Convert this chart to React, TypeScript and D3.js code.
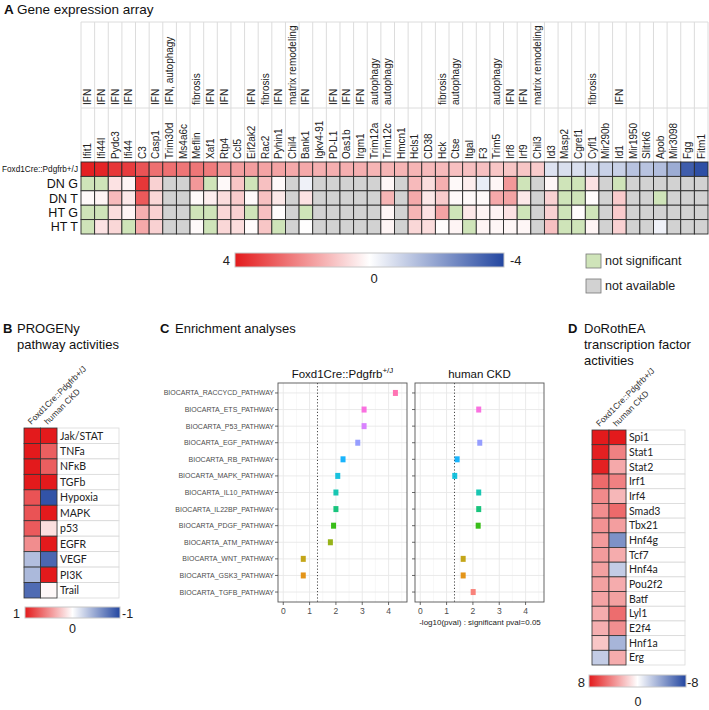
import React from "react";
import * as d3 from "d3";

// ---------------- Panel A data ----------------
const genes = ["Ifit1","Ifi44l","Pydc3","Ifi44","C3","Casp1","Trim30d","Ms4a6c","Meflin","Xaf1","Rtp4","Ccl5","Eif2ak2","Rac2","Pyhin1","Chil4","Bank1","Igkv4-91","PD-L1","Oas1b","Irgm1","Trim12a","Trim12c","Hmcn1","Hcls1","CD38","Hck","Ctse","Itgal","F3","Trim5","Irf8","Irf9","Chil3","Id3","Masp2","Cgref1","Cyfl1","Mir290b","Id1","Mir1950","Slitrk6","Apob","Mir3098","Fgg","Fitm1"];
const geneAnnotations = ["IFN","IFN","IFN","IFN","","IFN","IFN, autophagy","","fibrosis","IFN","IFN","","IFN","fibrosis","IFN","matrix remodeling","IFN","","IFN","IFN","IFN","autophagy","autophagy","","","","fibrosis","autophagy","","","autophagy","IFN","IFN","matrix remodeling","","","","fibrosis","","IFN","","","","","",""];
const rowLabelsA = ["Foxd1Cre::Pdgfrb+/J","DN G","DN T","HT G","HT T"];
const NS = "ns"; // not significant
const NA = "na"; // not available
const foxd1Expr = [3.9,3.8,3.5,3.4,3.0,2.5,2.5,2.4,2.4,2.3,1.8,1.7,1.7,1.6,1.6,1.5,1.5,1.4,1.4,1.4,1.4,1.3,1.3,1.3,1.3,1.2,1.2,1.1,1.1,1.1,1.0,1.0,1.0,0.9,-0.6,-0.7,-0.7,-0.8,-1.0,-1.0,-1.3,-1.3,-1.4,-1.8,-3.5,-3.8];
const dnG = [NS,NS,0.5,0.2,3.5,0.8,NA,NA,1.8,NS,0.1,1.0,NS,1.1,0.1,NA,-0.3,NA,NA,NA,NA,NA,0.15,NA,1.2,0.6,1.4,0.1,0.3,-0.4,0.15,1.8,NS,NA,0.15,NS,NS,0.5,NA,NS,NA,NA,NA,NA,NA,NA];
const dnT = [0.1,0.2,1.2,0.4,2.9,0.7,NA,NA,0.1,0.3,0.6,0.9,0.1,1.1,0.4,NA,0.5,NA,NA,NA,NA,NA,1.3,NA,1.5,0.4,0.9,0.1,0.1,0.1,1.5,1.6,0.4,NA,0.8,NS,NS,0.05,NA,0.9,NA,NA,NS,NA,NA,NA];
const htG = [NS,NS,0.6,0.2,1.4,0.8,NA,NA,NS,NS,0.7,0.8,NS,1.1,0.05,NA,NS,NA,NA,NA,NA,NA,0.15,NA,1.3,0.5,1.6,NS,0.4,0.2,0.2,0.5,NS,NA,0.8,NS,0.05,NS,NA,0.9,NA,NA,NA,NA,NA,NA];
const htT = [NS,0.5,0.7,NS,1.5,0.8,NA,NA,0.1,NS,0.7,0.6,0.05,1.0,NS,NA,0.02,NA,NA,NA,NA,NA,0.2,NA,0.7,0.6,0.05,0.2,NS,0.2,0.15,0.15,0.15,NA,1.1,NS,NS,0.2,NA,0.8,NA,NA,-0.3,NA,NA,NA];
const legendTicksA = ["4","0","-4"];

// ---------------- Panel B data ----------------
const progenyCols = ["Foxd1Cre::Pdgfrb+/J","human CKD"];
const progenyPathways = ["Jak/STAT","TNFa","NFκB","TGFb","Hypoxia","MAPK","p53","EGFR","VEGF","PI3K","Trail"];
const progenyFoxd1 = [1.0,1.0,1.0,1.0,0.75,0.75,0.72,0.5,-0.35,-0.38,-0.8];
const progenyCKD = [1.0,0.7,0.7,1.0,-0.93,1.0,0.14,1.0,-0.82,1.0,0.03];

// ---------------- Panel C data ----------------
const enrichPathways = ["BIOCARTA_RACCYCD_PATHWAY","BIOCARTA_ETS_PATHWAY","BIOCARTA_P53_PATHWAY","BIOCARTA_EGF_PATHWAY","BIOCARTA_RB_PATHWAY","BIOCARTA_MAPK_PATHWAY","BIOCARTA_IL10_PATHWAY","BIOCARTA_IL22BP_PATHWAY","BIOCARTA_PDGF_PATHWAY","BIOCARTA_ATM_PATHWAY","BIOCARTA_WNT_PATHWAY","BIOCARTA_GSK3_PATHWAY","BIOCARTA_TGFB_PATHWAY"];
const enrichFoxd1 = [4.26,3.07,3.07,2.83,2.27,2.07,2.0,2.0,1.91,1.79,0.76,0.76,null];
const enrichCKD = [null,2.22,null,2.26,1.40,1.31,2.22,2.22,2.20,null,1.63,1.63,2.01];
const enrichTicks = [0,1,2,3,4];
const sigThreshold = 1.3;

// ---------------- Panel D data ----------------
const tfNames = ["Spi1","Stat1","Stat2","Irf1","Irf4","Smad3","Tbx21","Hnf4g","Tcf7","Hnf4a","Pou2f2","Batf","Lyl1","E2f4","Hnf1a","Erg"];
const tfFoxd1 = [8,7.8,7.8,5.2,4.1,4.0,3.8,3.5,3.5,3.3,3.3,3.2,2.9,2.8,2.0,-2.2];
const tfCKD = [8,4.4,3.0,4.4,2.5,5.2,3.4,-4.7,2.9,-2.2,2.9,3.3,5.1,3.9,-3.2,2.9];

// ---------------- styling ----------------
const RED = "#e31a1c";
const WHITE = "#ffffff";
const BLUE = "#2346a0";
const GREEN = "#cfe4b9";
const GRAY = "#d2d2d2";
const FONT = "'Liberation Sans', Arial, sans-serif";
const LABFONT = "Lato, 'Open Sans', sans-serif";

// ggplot-like polarLuv -> hex
function hclLuv(h: number, c: number, l: number): string {
  const hr = (h * Math.PI) / 180;
  const u = c * Math.cos(hr), v = c * Math.sin(hr);
  const Xn = 95.047, Yn = 100, Zn = 108.883;
  const den = Xn + 15 * Yn + 3 * Zn;
  const un = (4 * Xn) / den, vn = (9 * Yn) / den;
  const Y = l > 8 ? Yn * Math.pow((l + 16) / 116, 3) : (Yn * l) / 903.3;
  const up = u / (13 * l) + un, vp = v / (13 * l) + vn;
  const X = (Y * 9 * up) / (4 * vp);
  const Z = (Y * (12 - 3 * up - 20 * vp)) / (4 * vp);
  const x = X / 100, y = Y / 100, z = Z / 100;
  const r = 3.2404542 * x - 1.5371385 * y - 0.4985314 * z;
  const g = -0.969266 * x + 1.8760108 * y + 0.041556 * z;
  const b = 0.0556434 * x - 0.2040259 * y + 1.0572252 * z;
  const gam = (t: number) => {
    t = Math.max(0, Math.min(1, t));
    return 255 * (t <= 0.0031308 ? 12.92 * t : 1.055 * Math.pow(t, 1 / 2.4) - 0.055);
  };
  return d3.rgb(gam(r), gam(g), gam(b)).formatHex();
}

function divScale(max: number) {
  return d3.scaleLinear<string>().domain([max, 0, -max]).range([RED, WHITE, BLUE]).clamp(true);
}

function Gradient({ id, scale, max }: { id: string; scale: (v: number) => string; max: number }) {
  const stops = d3.range(0, 1.0001, 0.1);
  return (
    <linearGradient id={id} x1="0" x2="1" y1="0" y2="0">
      {stops.map((t) => (
        <stop key={t} offset={t} stopColor={scale(max - 2 * max * t)} />
      ))}
    </linearGradient>
  );
}

function SmallHeatmap(props: {
  cols: string[]; rows: string[]; a: number[]; b: number[]; x0: number; x1: number; labelX1: number;
  y0: number; y1: number; max: number;
}) {
  const { cols, rows, a, b, x0, x1, labelX1, y0, y1, max } = props;
  const xs = d3.scaleBand<string>().domain(cols).range([x0, x1]);
  const ys = d3.scaleBand<string>().domain(rows).range([y0, y1]);
  const col = divScale(max);
  const series = [a, b];
  return (
    <g>
      {rows.map((r) => (
        <rect key={"lb" + r} x={x1} y={ys(r)} width={labelX1 - x1} height={ys.bandwidth()} fill="#fff" stroke="#d9d9d9" strokeWidth={0.8} />
      ))}
      {rows.map((r) => (
        <text key={"lt" + r} x={x1 + 3} y={(ys(r) as number) + ys.bandwidth() / 2 + 3.8} fontFamily={LABFONT} fontSize={10.5} fill="#222">{r}</text>
      ))}
      {cols.map((c, ci) =>
        rows.map((r, ri) => (
          <rect key={c + r} x={xs(c)} y={ys(r)} width={xs.bandwidth()} height={ys.bandwidth()} fill={col(series[ci][ri])} stroke="#333" strokeWidth={0.8} />
        ))
      )}
      {cols.map((c) => (
        <text key={"ct" + c} transform={`translate(${(xs(c) as number) + xs.bandwidth() / 2 - 1},${y0 - 3}) rotate(-45)`} fontFamily={FONT} fontSize={8.5} fill="#333">{c}</text>
      ))}
    </g>
  );
}

export default function App() {
  // ---- Panel A ----
  const xA = d3.scaleBand<string>().domain(genes).range([81, 708]);
  const yA = d3.scaleBand<string>().domain(rowLabelsA).range([162, 234]);
  const colA = divScale(4);
  const rowsA = [foxd1Expr, dnG, dnT, htG, htT];
  const fillA = (v: any) => (v === NS ? GREEN : v === NA ? GRAY : colA(v as number));
  const colB = divScale(1);
  const colD = divScale(8);

  // ---- Panel C ----
  const yC = d3.scalePoint<string>().domain(enrichPathways).range([383, 602]).padding(0.6);
  const nLev = enrichPathways.length;
  const hueColor = (i: number) => hclLuv(15 + (360 * (nLev - 1 - i)) / nLev, 100, 65);
  const panelsC = [
    { key: "foxd1", vals: enrichFoxd1, x: d3.scaleLinear().domain([-0.2, 4.7]).range([278, 407]) },
    { key: "ckd", vals: enrichCKD, x: d3.scaleLinear().domain([-0.2, 4.7]).range([415, 544]) },
  ];

  return (
    <svg width={709} height={710} style={{ position: "absolute", left: 0, top: 0, background: "#fff" }} fontFamily={FONT}>
      <defs>
        <Gradient id="gA" scale={colA} max={4} />
        <Gradient id="gB" scale={colB} max={1} />
        <Gradient id="gD" scale={colD} max={8} />
      </defs>
      <rect x={0} y={0} width={709} height={710} fill="#fff" />

      {/* ===== Panel A ===== */}
      <text x={4} y={14} fontSize={13.5} fill="#111"><tspan fontWeight="bold">A</tspan><tspan x={17}>Gene expression array</tspan></text>
      {/* header grid */}
      <line x1={81} x2={708} y1={22} y2={22} stroke="#dcdcdc" />
      <line x1={81} x2={708} y1={108} y2={108} stroke="#dcdcdc" />
      {genes.map((g) => (
        <line key={"hl" + g} x1={xA(g)} x2={xA(g)} y1={22} y2={162} stroke="#dcdcdc" />
      ))}
      <line x1={708} x2={708} y1={22} y2={162} stroke="#dcdcdc" />
      {genes.map((g, i) => (
        <g key={"hdr" + g}>
          <text transform={`translate(${(xA(g) as number) + xA.bandwidth() / 2 + 3.5},159) rotate(-90)`} fontSize={10} fill="#222">{g}</text>
          {geneAnnotations[i] && (
            <text transform={`translate(${(xA(g) as number) + xA.bandwidth() / 2 + 3.5},105) rotate(-90)`} fontSize={10} fill="#222">{geneAnnotations[i]}</text>
          )}
        </g>
      ))}
      {rowLabelsA.map((r, ri) =>
        genes.map((g, gi) => (
          <rect key={r + g} x={xA(g)} y={yA(r)} width={xA.bandwidth()} height={yA.bandwidth()} fill={fillA(rowsA[ri][gi])} stroke="#2a2a2a" strokeWidth={0.9} />
        ))
      )}
      {rowLabelsA.map((r, ri) =>
        ri === 0 ? (
          <text key={"rl" + r} x={78} y={(yA(r) as number) + yA.bandwidth() / 2 + 3} textAnchor="end" fontSize={9} textLength={76} lengthAdjust="spacingAndGlyphs" fill="#111">{r}</text>
        ) : (
          <text key={"rl" + r} x={78} y={(yA(r) as number) + yA.bandwidth() / 2 + 4.5} textAnchor="end" fontSize={12.5} fill="#111">{r}</text>
        )
      )}
      {/* legend A */}
      <rect x={235} y={253} width={269} height={14} fill="url(#gA)" stroke="#c8c8c8" strokeWidth={1} />
      <text x={230} y={265} textAnchor="end" fontSize={13} fill="#222">{legendTicksA[0]}</text>
      <text x={374} y={283} textAnchor="middle" fontSize={13} fill="#222">{legendTicksA[1]}</text>
      <text x={510} y={265} fontSize={13} fill="#222">{legendTicksA[2]}</text>
      <rect x={586} y={254} width={15} height={14} fill={GREEN} stroke="#777" strokeWidth={0.8} />
      <text x={605} y={265} fontSize={12.5} fill="#222">not significant</text>
      <rect x={586} y={279} width={15} height={14} fill={GRAY} stroke="#777" strokeWidth={0.8} />
      <text x={605} y={290} fontSize={12.5} fill="#222">not available</text>

      {/* ===== Panel B ===== */}
      <text x={3} y={333} fontSize={13} fill="#111"><tspan fontWeight="bold">B</tspan><tspan x={17}>PROGENy</tspan></text>
      <text x={17} y={349} fontSize={13} fill="#111">pathway activities</text>
      <SmallHeatmap cols={progenyCols} rows={progenyPathways} a={progenyFoxd1} b={progenyCKD} x0={24} x1={57} labelX1={119} y0={428} y1={598} max={1} />
      <rect x={25} y={607} width={95} height={11} fill="url(#gB)" stroke="#c8c8c8" />
      <text x={20} y={618} textAnchor="end" fontSize={12.5} fill="#222">1</text>
      <text x={122} y={618} fontSize={12.5} fill="#222">-1</text>
      <text x={72.5} y={633} textAnchor="middle" fontSize={12.5} fill="#222">0</text>

      {/* ===== Panel C ===== */}
      <text x={160} y={333} fontSize={13} fill="#111"><tspan fontWeight="bold">C</tspan><tspan x={175}>Enrichment analyses</tspan></text>
      {panelsC.map((p) => {
        const [x0, x1] = p.x.range();
        const minor = d3.range(-0.5, 5, 1).filter((v) => v > -0.2 && v < 4.7);
        return (
          <g key={p.key}>
            <rect x={x0} y={383} width={x1 - x0} height={219} fill="#fff" />
            {minor.map((m) => (
              <line key={"mn" + m} x1={p.x(m)} x2={p.x(m)} y1={383} y2={602} stroke="#f2f2f2" strokeWidth={0.6} />
            ))}
            {enrichTicks.map((t) => (
              <line key={"mj" + t} x1={p.x(t)} x2={p.x(t)} y1={383} y2={602} stroke="#e8e8e8" strokeWidth={0.9} />
            ))}
            {enrichPathways.map((pw) => (
              <line key={"hg" + pw} x1={x0} x2={x1} y1={yC(pw)} y2={yC(pw)} stroke="#e8e8e8" strokeWidth={0.9} />
            ))}
            <line x1={p.x(sigThreshold)} x2={p.x(sigThreshold)} y1={383} y2={602} stroke="#333" strokeWidth={0.9} strokeDasharray="1.2,2" />
            {p.vals.map((v, i) =>
              v === null ? null : (
                <rect key={"pt" + i} x={p.x(v) - 2.5} y={(yC(enrichPathways[i]) as number) - 3} width={5} height={6} fill={hueColor(i)} opacity={0.9} />
              )
            )}
            <rect x={x0} y={383} width={x1 - x0} height={219} fill="none" stroke="#555" strokeWidth={0.9} />
            {enrichPathways.map((pw) => (
              <line key={"yt" + pw} x1={x0 - 3} x2={x0} y1={yC(pw)} y2={yC(pw)} stroke="#444" strokeWidth={0.8} />
            ))}
            {enrichTicks.map((t) => (
              <g key={"xt" + t}>
                <line x1={p.x(t)} x2={p.x(t)} y1={602} y2={605} stroke="#444" strokeWidth={0.8} />
                <text x={p.x(t)} y={614} textAnchor="middle" fontSize={8.5} fill="#4d4d4d">{t}</text>
              </g>
            ))}
          </g>
        );
      })}
      {enrichPathways.map((pw) => (
        <text key={"yl" + pw} x={274} y={(yC(pw) as number) + 2.5} textAnchor="end" fontSize={7} fill="#4d4d4d">{pw}</text>
      ))}
      <text x={342.5} y={378} textAnchor="middle" fontSize={11.5} fill="#111">Foxd1Cre::Pdgfrb<tspan fontSize={8} dy={-5}>+/J</tspan></text>
      <text x={479.5} y={378} textAnchor="middle" fontSize={11.5} fill="#111">human CKD</text>
      <text x={480} y={625} textAnchor="middle" fontSize={8} fill="#222">-log10(pval) : significant pval=0.05</text>

      {/* ===== Panel D ===== */}
      <text x={568} y={333} fontSize={13} fill="#111"><tspan fontWeight="bold">D</tspan><tspan x={584}>DoRothEA</tspan></text>
      <text x={584} y={349} fontSize={13} fill="#111">transcription factor</text>
      <text x={584} y={365} fontSize={13} fill="#111">activities</text>
      <SmallHeatmap cols={progenyCols} rows={tfNames} a={tfFoxd1} b={tfCKD} x0={592} x1={626} labelX1={685} y0={430} y1={665} max={8} />
      <rect x={589} y={675} width={97} height={12} fill="url(#gD)" stroke="#c8c8c8" />
      <text x={585} y={687} textAnchor="end" fontSize={13} fill="#222">8</text>
      <text x={687} y={687} fontSize={13} fill="#222">-8</text>
      <text x={638} y={706} textAnchor="middle" fontSize={12.5} fill="#222">0</text>
    </svg>
  );
}
